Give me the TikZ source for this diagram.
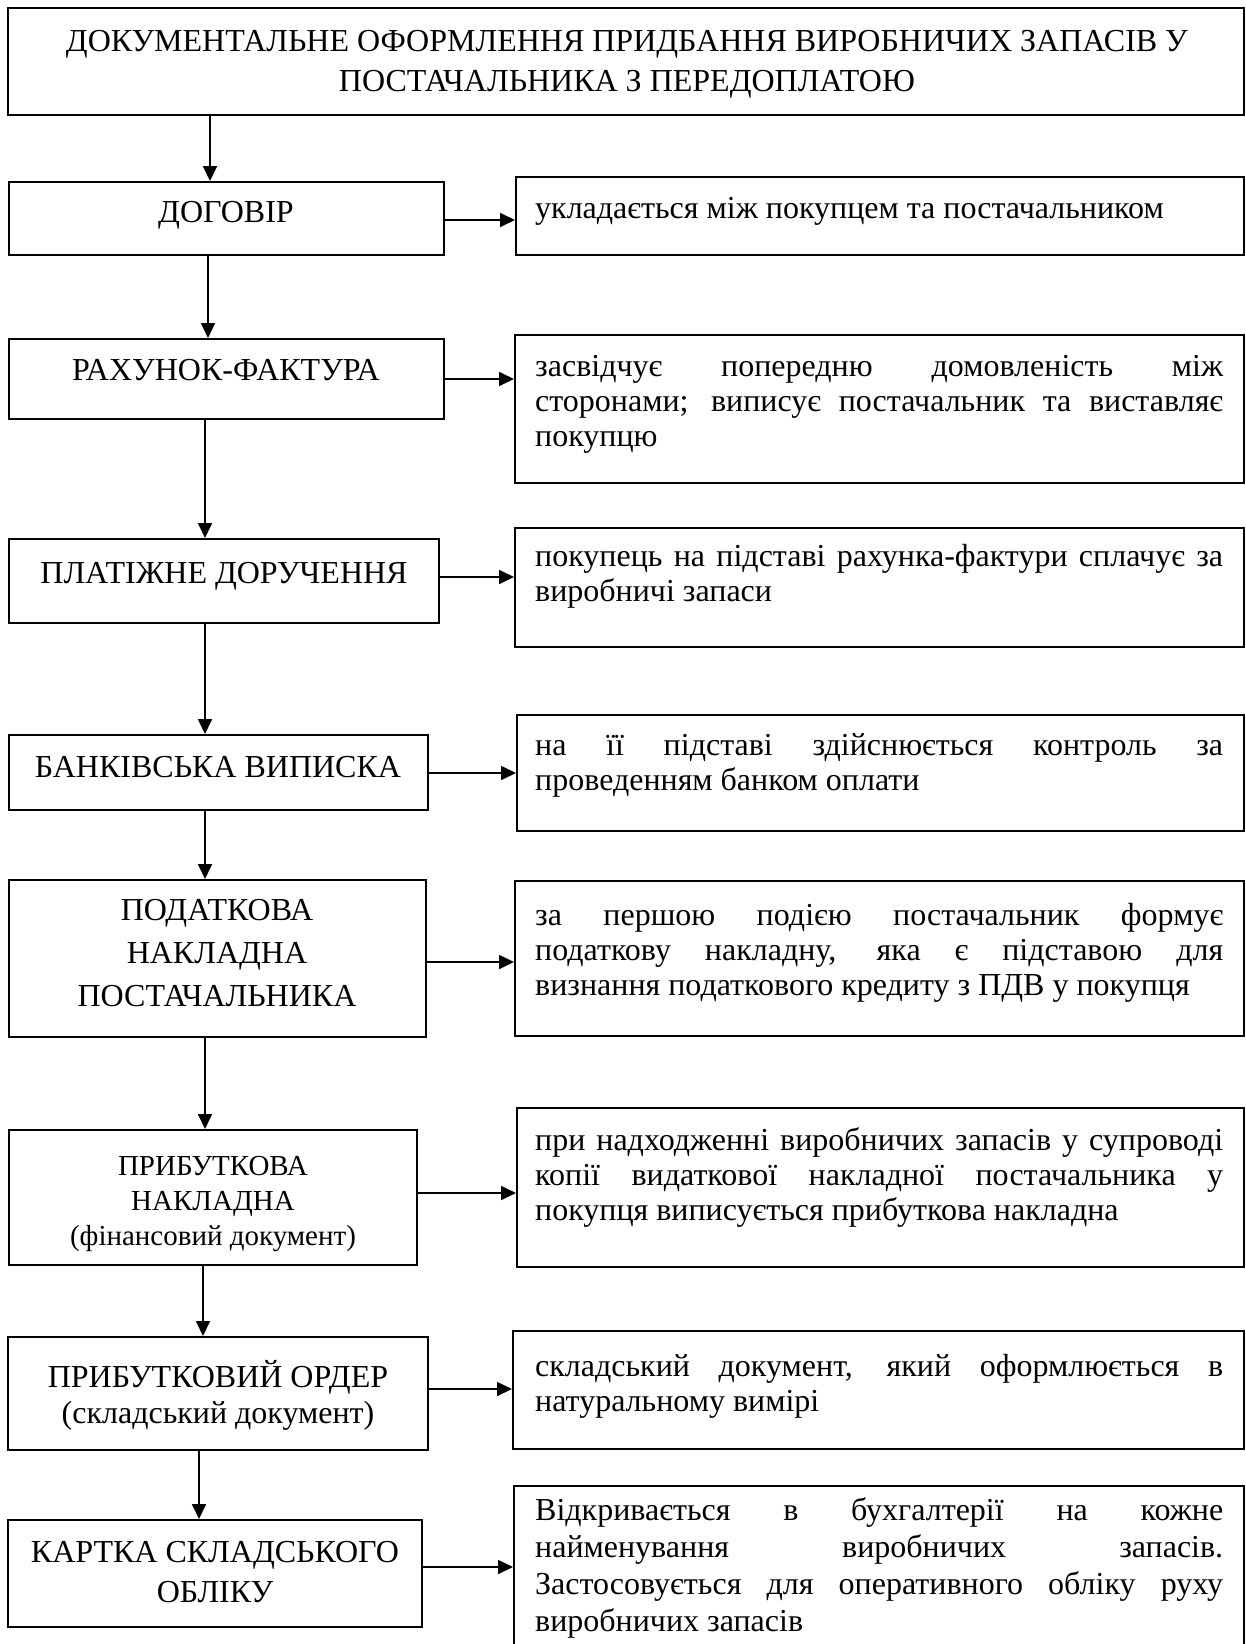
\documentclass[tikz,border=0pt]{standalone}
\usepackage{fontspec}
\setmainfont{Liberation Serif}
\usetikzlibrary{arrows.meta}
\newlength\rjw
\setlength\rjw{688pt}
\newcommand\jl[1]{\makebox[\rjw][s]{#1}}
\newcommand\bx[5]{\node[box, minimum width={(#4-#2)*1pt}, minimum height={(#5-#3)*1pt}] (#1) at ({(#2+#4)/2},{(#3+#5)/2}) {};}
\newcommand\lfont{\fontsize{32}{40}\selectfont}
\newcommand\rfont{\fontsize{32}{35}\selectfont}
\newcommand\ltab[1]{\begin{tabular}[t]{@{}c@{}}#1\end{tabular}}
\newcommand\rpar[1]{\parbox[t]{\rjw}{#1}}
\begin{document}
\begin{tikzpicture}[x=1pt,y=-1pt,
  box/.style={draw, line width=2pt, inner sep=0pt, rectangle},
  arr/.style={line width=1.7pt, -{Triangle[length=15pt,width=14pt]}},
  lt/.style={inner sep=0pt, anchor=base, font=\lfont},
  rt/.style={inner sep=0pt, anchor=base west, font=\rfont}]
\fill[white] (0,0) rectangle (1246,1644);
\useasboundingbox (0,0) rectangle (1246,1644);
\clip (0,0) rectangle (1246,1644);

% title
\bx{T}{8}{8}{1244}{115}
\node[lt, font=\fontsize{32}{40}\selectfont] (tt) at (627,51) {\ltab{ДОКУМЕНТАЛЬНЕ ОФОРМЛЕННЯ ПРИДБАННЯ ВИРОБНИЧИХ ЗАПАСІВ У\\ПОСТАЧАЛЬНИКА З ПЕРЕДОПЛАТОЮ}};

% left boxes
\bx{L1}{9}{182}{444}{255}
\bx{L2}{9}{339}{444}{419}
\bx{L3}{9}{539}{439}{623}
\bx{L4}{9}{735}{428}{810}
\bx{L5}{9}{880}{426}{1037}
\bx{L6}{9}{1130}{417}{1265}
\bx{L7}{8}{1337}{428}{1450}
\bx{L8}{8}{1520}{422}{1627}

\node[lt] (l1t) at (226,222) {ДОГОВІР};
\node[lt] (l2t) at (226,380) {РАХУНОК-ФАКТУРА};
\node[lt] (l3t) at (224,583) {ПЛАТІЖНЕ ДОРУЧЕННЯ};
\node[lt] (l4t) at (218,777) {БАНКІВСЬКА ВИПИСКА};
\node[lt, font=\fontsize{32}{43}\selectfont] (l5t) at (217,920) {\ltab{ПОДАТКОВА\\НАКЛАДНА\\ПОСТАЧАЛЬНИКА}};
\node[lt, font=\fontsize{29}{35}\selectfont] (l6t) at (213,1175) {\ltab{ПРИБУТКОВА\\НАКЛАДНА\\(фінансовий документ)}};
\node[lt, font=\fontsize{32}{36}\selectfont] (l7t) at (218,1387) {\ltab{ПРИБУТКОВИЙ ОРДЕР\\(складський документ)}};
\node[lt, font=\fontsize{32}{40}\selectfont] (l8t) at (215,1562) {\ltab{КАРТКА СКЛАДСЬКОГО\\ОБЛІКУ}};

% right boxes
\bx{R1}{516}{177}{1244}{255}
\bx{R2}{515}{335}{1244}{483}
\bx{R3}{515}{528}{1244}{647}
\bx{R4}{517}{715}{1244}{831}
\bx{R5}{515}{881}{1244}{1036}
\bx{R6}{517}{1108}{1244}{1267}
\bx{R7}{513}{1331}{1244}{1449}
\bx{R8}{514}{1486}{1244}{1670}

\node[rt] (r1t) at (535,218) {укладається між покупцем та постачальником};
\node[rt] (r2t) at (535,376) {\rpar{\jl{засвідчує попередню домовленість між}\\\jl{сторонами; виписує постачальник та виставляє}\\покупцю}};
\node[rt] (r3t) at (535,566) {\rpar{\jl{покупець на підставі рахунка-фактури сплачує за}\\виробничі запаси}};
\node[rt] (r4t) at (535,755) {\rpar{\jl{на її підставі здійснюється контроль за}\\проведенням банком оплати}};
\node[rt] (r5t) at (535,925) {\rpar{\jl{за першою подією постачальник формує}\\\jl{податкову накладну, яка є підставою для}\\визнання податкового кредиту з ПДВ у покупця}};
\node[rt] (r6t) at (535,1150) {\rpar{\jl{при надходженні виробничих запасів у супроводі}\\\jl{копії видаткової накладної постачальника у}\\покупця виписується прибуткова накладна}};
\node[rt] (r7t) at (535,1376) {\rpar{\jl{складський документ, який оформлюється в}\\натуральному вимірі}};
\node[rt, font=\fontsize{32}{37}\selectfont] (r8t) at (535,1520) {\rpar{\jl{Відкривається в бухгалтерії на кожне}\\\jl{найменування виробничих запасів.}\\\jl{Застосовується для оперативного обліку руху}\\виробничих запасів}};

% vertical arrows
\draw[arr] (T.south -| 210,0) -- (L1.north -| 210,0);
\draw[arr] (L1.south -| 208,0) -- (L2.north -| 208,0);
\draw[arr] (L2.south -| 205,0) -- (L3.north -| 205,0);
\draw[arr] (L3.south -| 205,0) -- (L4.north -| 205,0);
\draw[arr] (L4.south -| 205,0) -- (L5.north -| 205,0);
\draw[arr] (L5.south -| 205,0) -- (L6.north -| 205,0);
\draw[arr] (L6.south -| 203,0) -- (L7.north -| 203,0);
\draw[arr] (L7.south -| 199,0) -- (L8.north -| 199,0);

% horizontal arrows
\draw[arr] (L1.east |- 0,220) -- (R1.west |- 0,220);
\draw[arr] (L2.east |- 0,379) -- (R2.west |- 0,379);
\draw[arr] (L3.east |- 0,577) -- (R3.west |- 0,577);
\draw[arr] (L4.east |- 0,773) -- (R4.west |- 0,773);
\draw[arr] (L5.east |- 0,962) -- (R5.west |- 0,962);
\draw[arr] (L6.east |- 0,1193) -- (R6.west |- 0,1193);
\draw[arr] (L7.east |- 0,1389) -- (R7.west |- 0,1389);
\draw[arr] (L8.east |- 0,1567) -- (R8.west |- 0,1567);
\end{tikzpicture}
\end{document}
